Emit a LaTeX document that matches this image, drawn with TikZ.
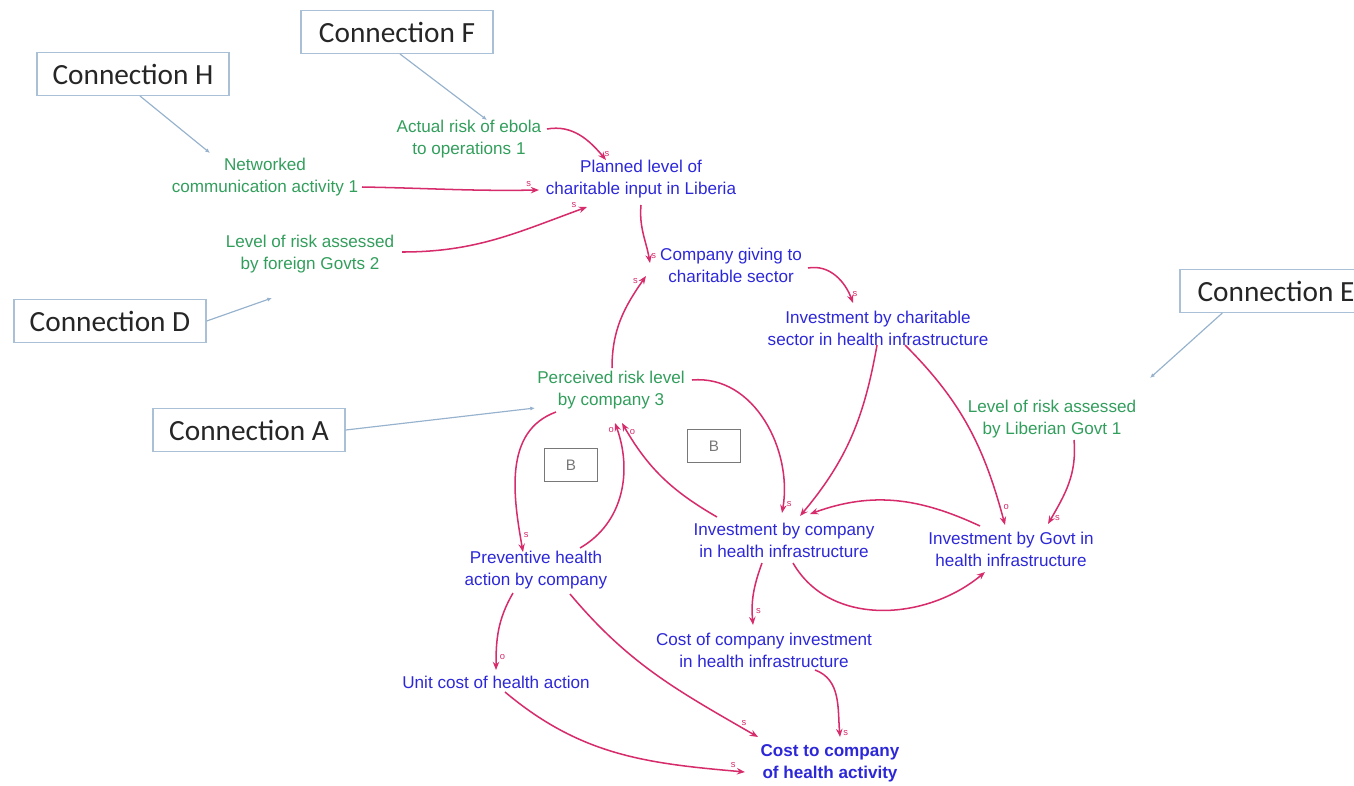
\documentclass[tikz,border=0pt]{standalone}
\usepackage{fontspec}
\setmainfont{Liberation Sans}
\newfontfamily\boxfont{Carlito}
\usetikzlibrary{calc,arrows.meta}
\definecolor{vargreen}{RGB}{50,158,92}
\definecolor{varblue}{RGB}{45,40,215}
\definecolor{linkpink}{RGB}{214,44,108}
\definecolor{connedge}{RGB}{170,192,214}
\definecolor{feedblue}{RGB}{150,178,205}
\definecolor{loopgray}{RGB}{120,120,120}
\begin{document}
\begin{tikzpicture}[x=0.03cm,y=0.03cm,
  var/.style={align=center,font=\fontsize{14.6}{18.7}\selectfont,inner sep=1pt},
  auxv/.style={var,text=vargreen},
  flowv/.style={var,text=varblue},
  conn/.style={draw=connedge,line width=1.1pt,fill=white,
    font=\boxfont\fontsize{25}{25}\selectfont,text=black!85,
    minimum width=164pt,minimum height=36.5pt,inner sep=0pt},
  feed/.style={draw=feedblue,line width=1pt,-{Latex[length=4pt,width=3.5pt]}},
  link/.style={draw=linkpink,line width=1.3pt,-{Stealth[length=7pt,width=5.5pt]}},
  pol/.style={font=\fontsize{8}{8}\selectfont,text=linkpink,inner sep=0.5pt},
  loopbox/.style={draw=loopgray,line width=1pt,text=loopgray,
    font=\fontsize{13}{13}\selectfont,minimum width=45pt,minimum height=28pt,inner sep=0pt}]
\useasboundingbox (0,0) rectangle (1354,-785);
\clip (0,0) rectangle (1354,-785);

% connection boxes
\node[conn] (connF) at (397,-32) {Connection F};
\node[conn] (connH) at (133,-74) {Connection H};
\node[conn] (connD) at (110,-321) {Connection D};
\node[conn] (connA) at (249,-430) {Connection A};
\node[conn] (connE) at (1276,-291) {Connection E};

% variables
\node[auxv]  (net)     at (265,-177) {Networked\\communication activity 1};
\node[auxv]  (act)     at (469,-139) {Actual risk of ebola\\to operations 1};
\node[flowv] (plan)    at (641,-179) {Planned level of\\charitable input in Liberia};
\node[auxv]  (lfor)    at (310,-254) {Level of risk assessed\\by foreign Govts 2};
\node[flowv] (cgive)   at (731,-265) {Company giving to\\charitable sector};
\node[flowv] (icharit) at (878,-328) {Investment by charitable\\sector in health infrastructure};
\node[auxv]  (perc)    at (611,-390) {Perceived risk level\\by company 3};
\node[auxv]  (lliber)  at (1052,-419) {Level of risk assessed\\by Liberian Govt 1};
\node[flowv] (icomp)   at (784,-540) {Investment by company\\in health infrastructure};
\node[flowv] (igovt)   at (1011,-549) {Investment by Govt in\\health infrastructure};
\node[flowv] (prev)    at (536,-570) {Preventive health\\action by company};
\node[flowv] (ccomp)   at (764,-650) {Cost of company investment\\in health infrastructure};
\node[flowv] (unit)    at (496,-682) {Unit cost of health action};
\node[flowv,font=\bfseries\fontsize{14.6}{18.7}\selectfont] (ctot) at (830,-763) {Cost to company\\of health activity};

% loop markers
\node[loopbox] (loopL) at (571,-465) {B};
\node[loopbox] (loopR) at (714,-446) {B};

% pointers from the connection boxes
\coordinate (hEnd) at (210,-153);
\coordinate (fEnd) at (487,-120);
\coordinate (dEnd) at (272,-298);
\coordinate (aEnd) at (535,-408);
\coordinate (eEnd) at (1150,-378);
\draw[feed] ($(connH.south)+(7,0)$) -- (hEnd);
\draw[feed] ($(connF.south)+(3,0)$) -- (fEnd);
\draw[feed] (connD.east) -- (dEnd);
\draw[feed] (connA.east) -- (aEnd);
\draw[feed] ($(connE.south west)+(43,0)$) -- (eEnd);

% causal links
\draw[link] ($(act)+(78,10)$) to[out=10,in=130]
  node[pol,pos=0.9,right=2pt] {s} ($(plan)+(-35,19)$);
\draw[link] ($(net)+(97,-10)$) to[out=-1,in=181]
  node[pol,pos=0.95,above=2pt] {s} ($(plan)+(-102,-11)$);
\draw[link] ($(lfor)+(92,2)$) to[out=0,in=200]
  node[pol,pos=0.96,above left=1pt] {s} ($(plan)+(-54,-28)$);
\draw[link] ($(plan)+(0,-26)$) to[out=-95,in=100]
  node[pol,pos=0.9,right=1pt] {s} ($(cgive)+(-81,2)$);
\draw[link] ($(perc)+(1,22)$) to[out=90,in=235]
  node[pol,pos=0.95,left=3pt] {s} ($(cgive)+(-85,-11)$);
\draw[link] ($(cgive)+(77,-3)$) to[out=10,in=110]
  node[pol,pos=0.85,right=2pt] {s} ($(icharit)+(-25,25)$);
\draw[link] ($(icharit)+(-1,-17)$) to[out=-100,in=50] ($(icomp)+(16,24)$);
\draw[link] ($(icharit)+(27,-17)$) to[out=-45,in=105]
  node[pol,pos=0.92,right=2pt] {o} ($(igovt)+(-6,24)$);
\draw[link] ($(perc)+(81,10)$) to[out=5,in=80]
  node[pol,pos=0.95,right=2pt] {s} ($(icomp)+(-2,27)$);
\draw[link] ($(icomp)+(-67,23)$) to[out=150,in=-60]
  node[pol,pos=0.93,right=1pt] {o} ($(perc)+(11,-33)$);
\draw[link] ($(prev)+(44,22)$) to[out=30,in=-70]
  node[pol,pos=0.95,left=2pt] {o} ($(perc)+(4,-33)$);
\draw[link] ($(perc)+(-55,-22)$) to[out=200,in=100]
  node[pol,pos=0.9,right=2pt] {s} ($(prev)+(-13,18)$);
\draw[link] ($(igovt)+(-31,23)$) to[out=155,in=20] ($(icomp)+(26,26)$);
\draw[link] ($(icomp)+(9,-23)$) to[out=-60,in=-140] ($(igovt)+(-26,-23)$);
\draw[link] ($(lliber)+(22,-21)$) to[out=-85,in=60]
  node[pol,pos=0.93,right=2pt] {s} ($(igovt)+(37,25)$);
\draw[link] ($(icomp)+(-22,-23)$) to[out=-110,in=95]
  node[pol,pos=0.8,right=2pt] {s} ($(ccomp)+(-11,25)$);
\draw[link] ($(prev)+(-23,-23)$) to[out=-120,in=90]
  node[pol,pos=0.85,right=2pt] {o} ($(unit)+(0,12)$);
\draw[link] ($(prev)+(34,-24)$) to[out=-50,in=150]
  node[pol,pos=0.94,above=2pt] {s} ($(ctot)+(-72,26)$);
\draw[link] ($(ccomp)+(51,-20)$) to[out=-20,in=95]
  node[pol,pos=0.95,right=2pt] {s} ($(ctot)+(10,26)$);
\draw[link] ($(unit)+(9,-10)$) to[out=-40,in=175]
  node[pol,pos=0.96,above=2pt] {s} ($(ctot)+(-85,-9)$);
\end{tikzpicture}
\end{document}
